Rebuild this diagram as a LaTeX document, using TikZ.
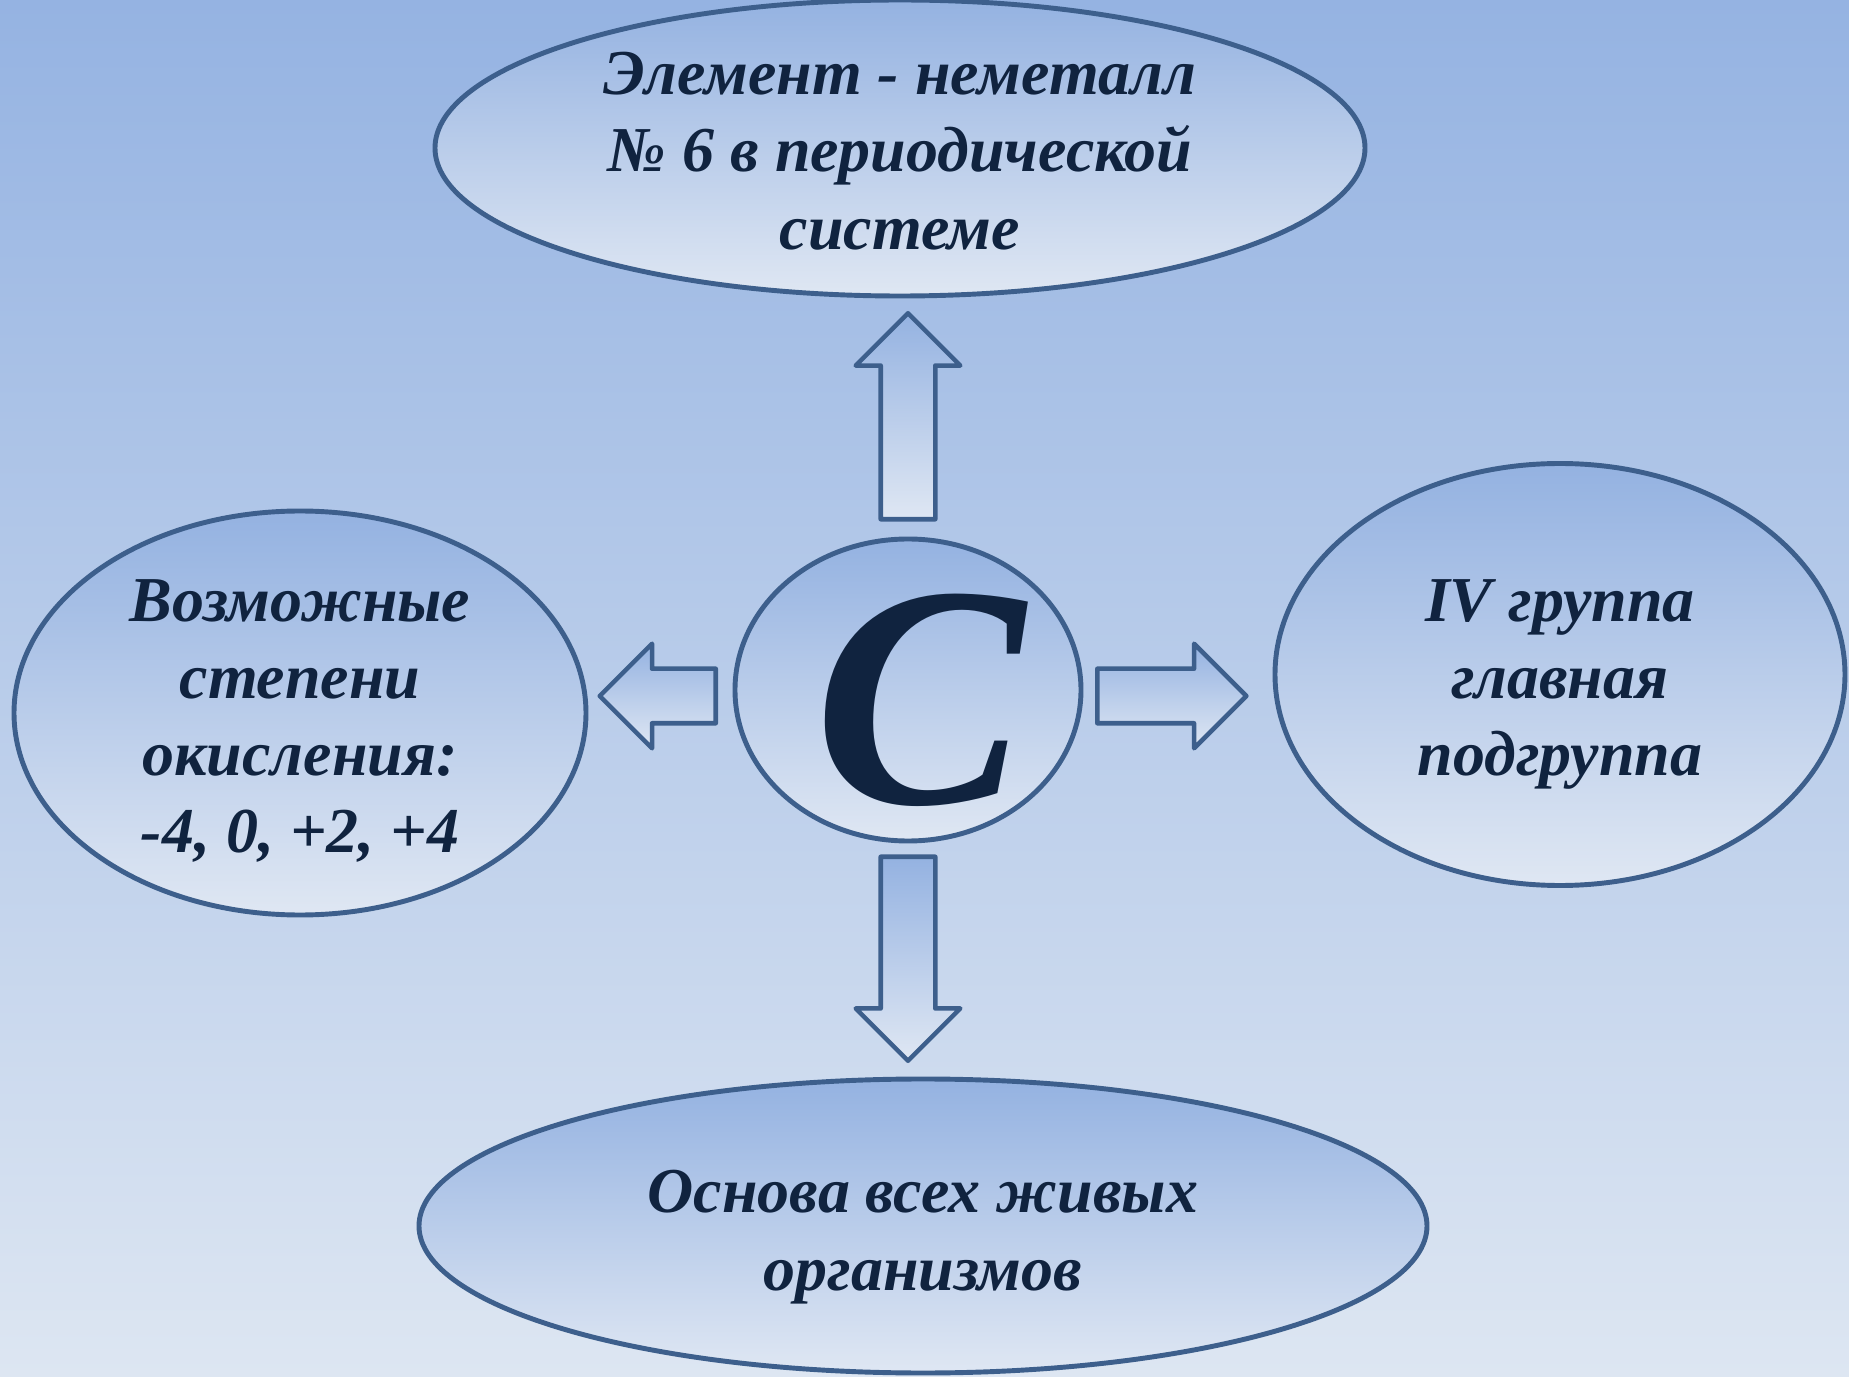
\documentclass[tikz,border=0pt]{standalone}
\usepackage{fontspec}
\setmainfont{Liberation Serif}
\usetikzlibrary{shapes.geometric,shapes.arrows,positioning,calc}

\definecolor{bgtop}{HTML}{95B3E2}
\definecolor{bgbot}{HTML}{DDE6F2}
\definecolor{shtop}{HTML}{94B2E1}
\definecolor{shbot}{HTML}{DFE7F3}
\definecolor{edge}{HTML}{3D5F8C}
\definecolor{ink}{HTML}{10233F}

\tikzset{
  oval/.style={ellipse, draw=edge, line width=1.4pt, top color=shtop, bottom color=shbot,
    inner sep=0pt},
  lbl/.style={align=center, inner sep=0pt, text=ink,
    font=\fontsize{18.2}{22}\selectfont\bfseries\itshape},
  blockarrow/.style={single arrow, draw=edge, line width=1.3pt, line join=round,
    top color=shtop, bottom color=shbot, single arrow head extend=0.25cm,
    single arrow tip angle=90, inner xsep=0pt, inner ysep=0.25cm, minimum width=1.0cm,
    anchor=tail},
}

\begin{document}
\begin{tikzpicture}
  \useasboundingbox (0,0) rectangle (18.49,-13.77);
  % Background
  \shade[top color=bgtop, bottom color=bgbot] (0,0) rectangle (18.49,-13.77);
  % Centre: carbon
  \node[oval, minimum width=3.46cm, minimum height=3.02cm] (carbon) at (9.08,-6.90) {};
  \node[lbl, font=\fontsize{90}{90}\selectfont\bfseries\itshape] (carbonTxt)
    at ($(carbon)+(0.12,-0.10)$) {C};
  % Surrounding ellipses
  \node[oval, minimum width=9.30cm, minimum height=2.96cm] (elem) at (9.00,-1.48) {};
  \node[lbl] (elemTxt) at ($(elem)+(0,-0.03)$)
    {Элемент - неметалл\\№ 6 в периодической\\системе};
  \node[oval, minimum width=5.72cm, minimum height=4.04cm] (oxid) at (3.00,-7.13) {};
  \node[lbl] (oxidTxt) at ($(oxid)+(0,-0.08)$)
    {Возможные\\степени\\окисления:\\-4, 0, +2, +4};
  \node[oval, minimum width=5.70cm, minimum height=4.22cm] (grp) at (15.60,-6.745) {};
  \node[lbl] (grpTxt) at ($(grp)+(0,-0.10)$)
    {IV группа\\главная\\подгруппа};
  \node[oval, minimum width=10.08cm, minimum height=2.94cm] (life) at (9.23,-12.26) {};
  \node[lbl] (lifeTxt) at ($(life)+(0,-0.11)$)
    {Основа всех живых\\организмов};
  % Block arrows
  \node[blockarrow, minimum height=2.06cm, rotate=90] (arrUp)
    at ($(carbon.north)+(0,0.15)$) {};
  \node[blockarrow, minimum height=2.04cm, rotate=-90] (arrDown)
    at ($(carbon.south)+(0,-0.11)$) {};
  \node[blockarrow, minimum height=1.16cm, rotate=180] (arrLeft)
    at ($(carbon.west)+(-0.145,-0.06)$) {};
  \node[blockarrow, minimum height=1.49cm] (arrRight)
    at ($(carbon.east)+(0.116,-0.06)$) {};
\end{tikzpicture}
\end{document}
